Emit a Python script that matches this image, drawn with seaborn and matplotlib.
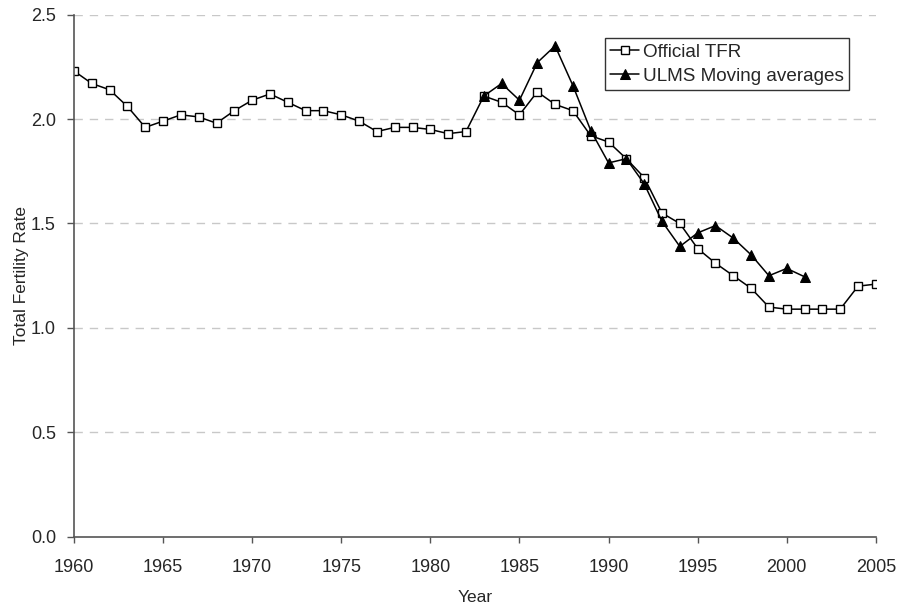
import matplotlib
matplotlib.use("Agg")
import matplotlib.pyplot as plt
import seaborn as sns
import pandas as pd

# official TFR, 1960-2005
years_official = list(range(1960, 2006))
official_tfr = [2.23, 2.17, 2.14, 2.06, 1.96, 1.99, 2.02, 2.01, 1.98, 2.04,
                2.09, 2.12, 2.08, 2.04, 2.04, 2.02, 1.99, 1.94, 1.96, 1.96,
                1.95, 1.93, 1.94, 2.11, 2.08, 2.02, 2.13, 2.07, 2.04, 1.92,
                1.89, 1.81, 1.72, 1.55, 1.50, 1.38, 1.31, 1.25, 1.19, 1.10,
                1.09, 1.09, 1.09, 1.09, 1.20, 1.21]

# ULMS moving averages, 1983-2001
years_ulms = list(range(1983, 2002))
ulms_tfr = [2.11, 2.17, 2.09, 2.27, 2.35, 2.16, 1.945, 1.79, 1.81, 1.69,
            1.51, 1.39, 1.455, 1.49, 1.43, 1.35, 1.25, 1.285, 1.245]

yticks = [0.0, 0.5, 1.0, 1.5, 2.0, 2.5]
xticks = list(range(1960, 2006, 5))

sns.set_style("white")
plt.rcParams['font.family'] = ['Liberation Sans', 'DejaVu Sans']

fig = plt.figure(figsize=(9.02, 6.06), dpi=100)
ax = fig.add_axes([0.082, 0.114, 0.889, 0.862])

df_off = pd.DataFrame({'Year': years_official, 'TFR': official_tfr})
df_ulms = pd.DataFrame({'Year': years_ulms, 'TFR': ulms_tfr})

sns.lineplot(data=df_off, x='Year', y='TFR', ax=ax, color='black', lw=1.1,
             marker='s', markersize=5.2, markerfacecolor='white',
             markeredgecolor='black', markeredgewidth=1.0, label='Official TFR')
sns.lineplot(data=df_ulms, x='Year', y='TFR', ax=ax, color='black', lw=1.1,
             marker='^', markersize=6.5, markerfacecolor='black',
             markeredgecolor='black', label='ULMS Moving averages')

# dashed grid, not at zero
for v in yticks[1:]:
    ax.axhline(v, color='#c8c8c8', lw=1, ls=(0, (6, 5)), zorder=0)

ax.set_xlim(1960, 2005)
ax.set_ylim(0, 2.5)
ax.set_xticks(xticks)
ax.set_yticks(yticks)
ax.set_yticklabels([f"{v:.1f}" for v in yticks])
ax.tick_params(axis='x', direction='out', length=4, width=1, color='#555555',
               pad=12, labelsize=13, bottom=True)
ax.tick_params(axis='y', direction='out', length=5, width=1, color='#555555',
               pad=8, labelsize=13, left=True)
for s in ['top', 'right']:
    ax.spines[s].set_visible(False)
for s in ['left', 'bottom']:
    ax.spines[s].set_color('#555555')
    ax.spines[s].set_linewidth(1.2)

ax.set_xlabel("Year", fontsize=12.5, labelpad=10)
ax.set_ylabel("Total Fertility Rate", fontsize=12.5, labelpad=1)

leg = ax.legend(loc='upper left', bbox_to_anchor=(0.662, 0.955), fontsize=13.6,
                frameon=True, fancybox=False, shadow=False, handlelength=1.5,
                handletextpad=0.2, borderpad=0.3, labelspacing=0.35,
                borderaxespad=0)
leg.get_frame().set_edgecolor('black')
leg.get_frame().set_linewidth(1.0)

fig.savefig("out.png", dpi=100)
